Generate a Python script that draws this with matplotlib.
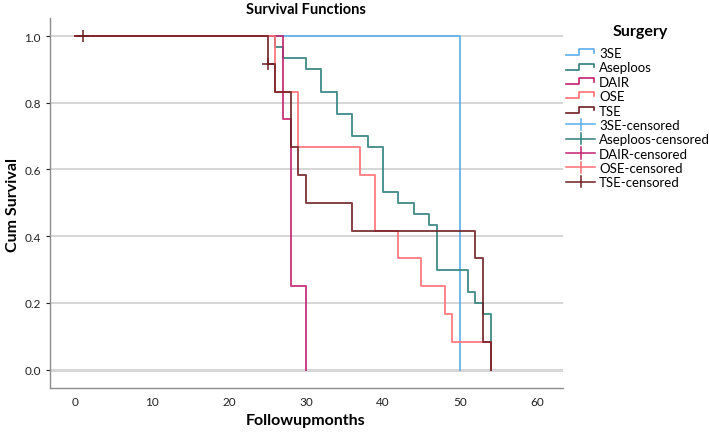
import matplotlib
matplotlib.use("Agg")
import matplotlib.pyplot as plt
from matplotlib.lines import Line2D
from matplotlib.legend_handler import HandlerBase

# ---- data ----
groups = ["3SE", "Aseploos", "DAIR", "OSE", "TSE"]
colors = ["#5aaeea", "#2f7f7b", "#c2206f", "#ff6e73", "#6e1f22"]

times_3se = [0, 50]
surv_3se = [1.0, 0.0]

times_asep = [0, 26, 27, 30, 32, 34, 36, 38, 40, 42, 44, 46, 47, 51, 52, 53, 54]
surv_asep = [1.0, 29/30, 28/30, 27/30, 25/30, 23/30, 21/30, 20/30, 16/30, 15/30,
             14/30, 13/30, 9/30, 7/30, 6/30, 5/30, 0.0]

times_dair = [0, 27, 28, 30]
surv_dair = [1.0, 0.75, 0.25, 0.0]

times_ose = [0, 26, 29, 37, 39, 42, 45, 48, 49, 54]
surv_ose = [1.0, 10/12, 8/12, 7/12, 5/12, 4/12, 3/12, 2/12, 1/12, 0.0]

times_tse = [0, 25, 26, 28, 29, 30, 36, 52, 53, 54]
surv_tse = [1.0, 11/12, 10/12, 8/12, 7/12, 6/12, 5/12, 4/12, 1/12, 0.0]

cens_tse_t = [1, 25]
cens_tse_s = [1.0, 11/12]

x_ticks = [0, 10, 20, 30, 40, 50, 60]
y_ticks = [0.0, 0.2, 0.4, 0.6, 0.8, 1.0]

series = [
    (times_3se, surv_3se, [], []),
    (times_asep, surv_asep, [], []),
    (times_dair, surv_dair, [], []),
    (times_ose, surv_ose, [], []),
    (times_tse, surv_tse, cens_tse_t, cens_tse_s),
]

FONT = "Lato"
plt.rcParams["font.family"] = [FONT, "DejaVu Sans"]

fig = plt.figure(figsize=(7.09, 4.35), dpi=100)
ax = fig.add_axes([50/709, 1-389/435, (563-50)/709, (389-19)/435])

ax.set_xlim(-3.3, 63.4)
ax.set_ylim(-0.055, 1.054)

for yt in y_ticks:
    ax.axhline(yt, color="#d6d6d6", lw=2.2 if yt == 0.0 else 1.4, zorder=0)

for (t, s, ct, cs), c in zip(series, colors):
    ax.step(t, s, where="post", color=c, lw=1.4, alpha=0.85, zorder=2)
    if ct:
        ax.plot(ct, cs, linestyle="none", marker="+", ms=9, mew=1.1, color=c, zorder=3)

ax.set_xticks(x_ticks)
ax.set_yticks(y_ticks)
ax.set_yticklabels([f"{v:.1f}" for v in y_ticks])
ax.tick_params(axis="x", length=0, labelsize=8.5, pad=6, colors="#222222")
ax.tick_params(axis="y", length=3, labelsize=8.5, colors="#222222", width=0.8)

for sp in ["top", "right"]:
    ax.spines[sp].set_visible(False)
for sp in ["left", "bottom"]:
    ax.spines[sp].set_color("#8c8c8c")
    ax.spines[sp].set_linewidth(1.0)

fig.text(306/709, 1-10/435, "Survival Functions", fontsize=10.5, fontweight="bold",
         ha="center", va="center")
fig.text(306/709, 1-421/435, "Followupmonths", fontsize=11.5, fontweight="bold",
         ha="center", va="center")
fig.text(13/709, 1-205/435, "Cum Survival", fontsize=11.5, fontweight="bold",
         ha="center", va="center", rotation=90)
fig.text(640/709, 1-32/435, "Surgery", fontsize=11.5, fontweight="bold",
         ha="center", va="center")


class StepHandler(HandlerBase):
    def create_artists(self, legend, orig_handle, xdescent, ydescent, width, height, fontsize, trans):
        x0 = -xdescent
        y0 = -ydescent
        xs = [x0, x0 + 0.45*width, x0 + 0.45*width, x0 + 0.95*width, x0 + 0.95*width]
        ys = [y0 + 0.2*height, y0 + 0.2*height, y0 + 0.85*height, y0 + 0.85*height, y0 + 0.45*height]
        ln = Line2D(xs, ys, color=orig_handle.get_color(), lw=1.2, transform=trans)
        return [ln]


class CensHandler(HandlerBase):
    def create_artists(self, legend, orig_handle, xdescent, ydescent, width, height, fontsize, trans):
        x0 = -xdescent
        y0 = -ydescent
        yc = y0 + 0.5*height
        ln = Line2D([x0, x0 + width], [yc, yc], color=orig_handle.get_color(), lw=1.1, transform=trans)
        tk = Line2D([x0 + 0.5*width, x0 + 0.5*width], [y0 - 0.1*height, y0 + 1.1*height],
                    color=orig_handle.get_color(), lw=1.1, transform=trans)
        return [ln, tk]


step_handles = [Line2D([], [], color=c) for c in colors]
cens_handles = [Line2D([], [], color=c) for c in colors]
handles = step_handles + cens_handles
labels = groups + [g + "-censored" for g in groups]
hmap = {h: StepHandler() for h in step_handles}
hmap.update({h: CensHandler() for h in cens_handles})

leg = fig.legend(handles, labels, handler_map=hmap, loc="upper left",
                 bbox_to_anchor=(566/709, 1-48/435), frameon=False,
                 fontsize=9.5, handlelength=2.2, handletextpad=0.3,
                 labelspacing=0.18, borderaxespad=0, borderpad=0)

fig.savefig("out.png", dpi=100)
